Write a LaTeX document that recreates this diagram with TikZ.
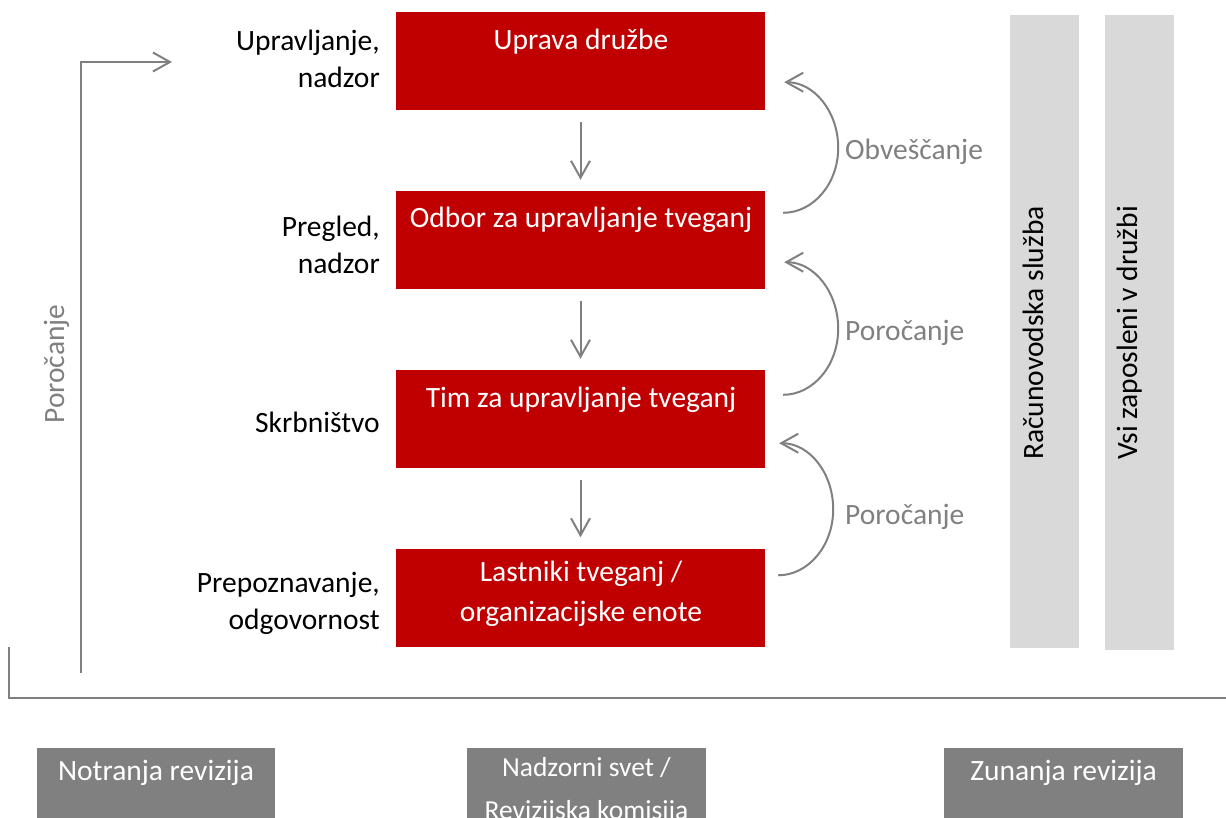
\documentclass[tikz,border=0pt]{standalone}
\usepackage{fontspec}
\setmainfont{Carlito}
\usetikzlibrary{arrows.meta,calc}
\definecolor{rdx}{HTML}{C00000}
\definecolor{gln}{HTML}{808080}
\definecolor{gbar}{HTML}{D9D9D9}
\definecolor{gbox}{HTML}{808080}
\tikzset{
  redbox/.style={fill=rdx, draw=none, minimum width=369pt, minimum height=98pt, inner sep=0pt},
  boxtxt/.style={text=white, font=\fontsize{29.5}{40}\selectfont, align=center, inner sep=0pt},
  lbl/.style={text=black, font=\fontsize{29.5}{37}\selectfont, align=right, inner sep=0pt},
  glbl/.style={text=gln, font=\fontsize{29.5}{37}\selectfont, inner sep=0pt},
  arr/.style={draw=gln, line width=2pt, -{Straight Barb[length=17pt,width=19pt,line width=2pt]}},
  vbar/.style={fill=gbar, draw=none, inner sep=0pt},
  bbox/.style={fill=gbox, draw=none, inner sep=0pt},
  bboxtxt/.style={text=white, font=\fontsize{29.5}{37}\selectfont, align=center, inner sep=0pt},
}
\begin{document}
\begin{tikzpicture}[x=1pt,y=-1pt]
\useasboundingbox (0,0) rectangle (1226,818);
\clip (0,0) rectangle (1226,818);

% red boxes
\node[redbox] (b1) at (580.5,61) {};
\node[redbox] (b2) at (580.5,240) {};
\node[redbox] (b3) at (580.5,419) {};
\node[redbox] (b4) at (580.5,597.5) {};

\node[boxtxt, anchor=base] (t1) at (581,50) {Uprava družbe};
\node[boxtxt, anchor=base] (t2) at (581,228) {Odbor za upravljanje tveganj};
\node[boxtxt, anchor=base] (t3) at (581,407) {Tim za upravljanje tveganj};
\node[boxtxt, anchor=base] (t4) at (581,621) {Lastniki tveganj /\\organizacijske enote};

% left labels
\node[lbl, anchor=base east] (l1) at (380,88) {Upravljanje,\\nadzor};
\node[lbl, anchor=base east] (l2) at (380,274) {Pregled,\\nadzor};
\node[lbl, anchor=base east] (l3) at (380,432) {Skrbništvo};
\node[lbl, anchor=base east] (l4) at (380,629) {Prepoznavanje,\\odgovornost};

% down arrows
\draw[arr] ([yshift=-12pt]b1.south) -- ([yshift=11pt]b2.north);
\draw[arr] ([yshift=-12pt]b2.south) -- ([yshift=11pt]b3.north);
\draw[arr] ([yshift=-12pt]b3.south) -- ([yshift=11pt]b4.north);

% curved arrows
\draw[arr] ([shift={(18,22)}]b2.north east) .. controls +(30,0) and +(0,36) .. ++(55,-65)
  .. controls +(0,-36) and +(30,0) .. ([shift={(19,-28)}]b1.south east);
\draw[arr] ([shift={(18,25)}]b3.north east) .. controls +(30,0) and +(0,36.5) .. ++(55,-66)
  .. controls +(0,-36.5) and +(30,0) .. ([shift={(19,-27)}]b2.south east);
\draw[arr] ([shift={(13,27)}]b4.north east) .. controls +(30,0) and +(0,36.5) .. ++(55,-66)
  .. controls +(0,-36.5) and +(30,0) .. ([shift={(14,-25)}]b3.south east);

\node[glbl, anchor=base west] (o1) at (845,160) {Obveščanje};
\node[glbl, anchor=base west] (o2) at (845,341) {Poročanje};
\node[glbl, anchor=base west] (o3) at (845,524) {Poročanje};

% vertical bars
\node[vbar, minimum width=69pt, minimum height=633pt] (v1) at (1044.5,331.5) {};
\node[vbar, minimum width=69pt, minimum height=635pt] (v2) at (1139.5,332.5) {};
\node[lbl, rotate=90, anchor=base] (vt1) at (1043,333) {Računovodska služba};
\node[lbl, rotate=90, anchor=base] (vt2) at (1137,333) {Vsi zaposleni v družbi};

% left reporting arrow
\coordinate (r0) at (81,673);
\coordinate (r1) at (172,62);
\draw[arr] (r0) |- (r1);
\node[glbl, rotate=90, anchor=base] (rl) at (64,364) {Poročanje};

% bottom line
\coordinate (h0) at (9,647);
\coordinate (h1) at (9,698);
\coordinate (h2) at (1226,698);
\draw[draw=gln, line width=1.5pt] (h0) -- (h1) -- (h2);

% bottom boxes
\node[bbox, minimum width=238pt, minimum height=100pt, anchor=north] (n1) at (156,748) {};
\node[bbox, minimum width=239pt, minimum height=100pt, anchor=north] (n2) at (586.5,748) {};
\node[bbox, minimum width=239pt, minimum height=100pt, anchor=north] (n3) at (1063.5,748) {};
\node[bboxtxt, anchor=base] (nt1) at (156,780) {Notranja revizija};
\node[bboxtxt, anchor=base, font=\fontsize{27.5}{43}\selectfont] (nt2) at (586.5,819) {Nadzorni svet /\\Revizijska komisija};
\node[bboxtxt, anchor=base] (nt3) at (1063.5,780) {Zunanja revizija};
\end{tikzpicture}
\end{document}
